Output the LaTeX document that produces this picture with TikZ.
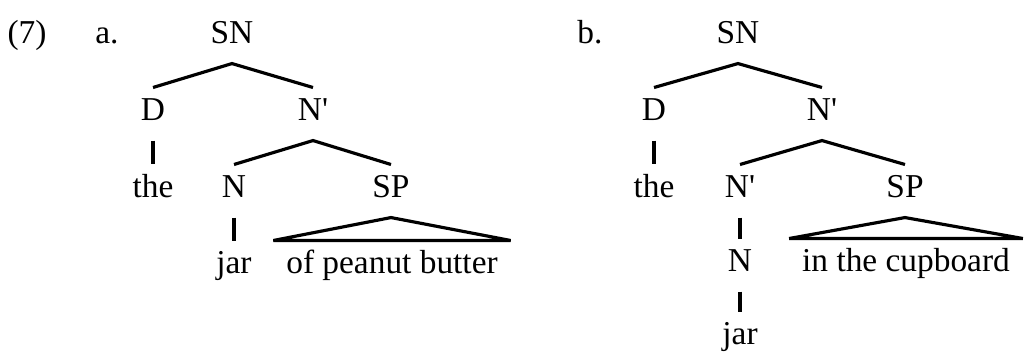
\documentclass[tikz,border=0pt]{standalone}
\usepackage{fontspec}
\setmainfont{Liberation Serif}
\usepackage{tikz}

\begin{document}
\begin{tikzpicture}[x=0.02cm,y=-0.02cm,line width=1.8pt,
  font=\fontsize{19}{23}\selectfont,
  lbl/.style={anchor=base,inner sep=0pt},
  cat/.style={anchor=base,inner sep=0pt,text height=17.6pt,text depth=10.8pt},
  phrase/.style={cat,inner xsep=6.5pt}]
\useasboundingbox (0,0) rectangle (1025,352);
% labels
\node[lbl] (ex) at (27,43) {(7)};
\node[lbl] (la) at (107,43) {a.};
\node[lbl] (lb) at (590,43) {b.};
% tree a
\node[cat] (SNa) at (232,43) {SN};
\node[cat] (Da) at (153,120) {D}; \node[cat] (NPa) at (313,120) {N\textquotesingle};
\node[cat] (thea) at (153,197) {the}; \node[cat] (Na) at (234,197) {N}; \node[cat] (SPa) at (391,197) {SP};
\node[cat] (jara) at (234,273) {jar}; \node[phrase] (opa) at (392,273) {of peanut butter};
\draw (Da.north) -- (SNa.south) -- (NPa.north);
\draw (Da.south) -- (thea.north);
\draw (Na.north) -- (NPa.south) -- (SPa.north);
\draw (Na.south) -- (jara.north);
\draw (SPa.south) -- (opa.north east) -- (opa.north west) -- cycle;
% tree b
\node[cat] (SNb) at (738,43) {SN};
\node[cat] (Db) at (654,120) {D}; \node[cat] (NPb) at (822,120) {N\textquotesingle};
\node[cat] (theb) at (654,197) {the}; \node[cat] (NPc) at (740,197) {N\textquotesingle}; \node[cat] (SPb) at (905,197) {SP};
\node[cat] (Nb) at (740,271) {N}; \node[phrase] (inb) at (906,271) {in the cupboard};
\node[cat] (jarb) at (740,344) {jar};
\draw (Db.north) -- (SNb.south) -- (NPb.north);
\draw (Db.south) -- (theb.north);
\draw (NPc.north) -- (NPb.south) -- (SPb.north);
\draw (NPc.south) -- (Nb.north);
\draw (Nb.south) -- (jarb.north);
\draw (SPb.south) -- (inb.north east) -- (inb.north west) -- cycle;
\end{tikzpicture}
\end{document}
